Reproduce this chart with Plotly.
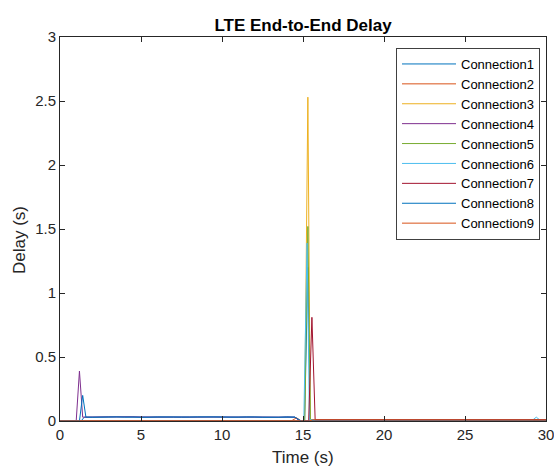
import plotly.graph_objects as go

# ---- data (time in s, delay in s) ----
names = ["Connection1", "Connection2", "Connection3", "Connection4", "Connection5",
         "Connection6", "Connection7", "Connection8", "Connection9"]
colors = ["#0072BD", "#D95319", "#EDB120", "#7E2F8E", "#77AC30",
          "#4DBEEE", "#A2142F", "#0072BD", "#D95319"]

noise_t = [1.5, 2.0, 2.5, 3.0, 3.5, 4.0, 4.5, 5.0, 5.5, 6.0, 6.5, 7.0, 7.5, 8.0, 8.5,
           9.0, 9.5, 10.0, 10.5, 11.0, 11.5, 12.0, 12.5, 13.0, 13.5, 14.0, 14.5]

t1 = [0, 1.3] + noise_t + [14.8, 15.1, 15.3, 15.45, 30]
d1 = [0, 0] + [0.030, 0.031, 0.029, 0.032, 0.030, 0.031, 0.033, 0.029, 0.030, 0.032,
               0.031, 0.030, 0.029, 0.031, 0.033, 0.030, 0.032, 0.031, 0.029, 0.030,
               0.032, 0.031, 0.030, 0.031, 0.029, 0.033, 0.030] + [0, 0, 1.2, 0.008, 0.008]

t2 = [0, 14.3, 14.6, 14.9, 30]
d2 = [0.002, 0.002, 0.025, 0.0, 0.0]

t3 = [0, 15.1, 15.3, 15.45, 30]
d3 = [0, 0, 2.53, 0.01, 0.01]

t4 = [0, 1.0, 1.2, 1.4, 3.0, 5.0, 7.0, 9.0, 11.0, 13.0, 14.5, 14.8, 30]
d4 = [0, 0, 0.39, 0.03, 0.032, 0.031, 0.030, 0.033, 0.031, 0.032, 0.030, 0, 0]

t5 = [0, 15.1, 15.3, 15.45, 30]
d5 = [0, 0, 1.52, 0.01, 0.01]

t6 = [0, 15.05, 15.25, 15.4, 29.2, 29.4, 29.6, 30]
d6 = [0, 0, 1.39, 0.01, 0.01, 0.03, 0.01, 0.01]

t7 = [0, 15.35, 15.55, 15.75, 30]
d7 = [0, 0, 0.81, 0.01, 0.01]

t8 = [0, 1.2, 1.4, 1.6] + noise_t[1:] + [14.9, 30]
d8 = [0, 0, 0.20, 0.03] + [0.029, 0.031, 0.030, 0.032, 0.030, 0.029, 0.031, 0.030,
                           0.032, 0.031, 0.029, 0.030, 0.031, 0.032, 0.030, 0.029,
                           0.031, 0.030, 0.032, 0.030, 0.031, 0.029, 0.030, 0.032,
                           0.031, 0.030] + [0, 0]

t9 = [0, 15.4, 15.6, 15.8, 30]
d9 = [0, 0, 0.01, 0.009, 0.008]

times = [t1, t2, t3, t4, t5, t6, t7, t8, t9]
delays = [d1, d2, d3, d4, d5, d6, d7, d8, d9]

x_ticks = [0, 5, 10, 15, 20, 25, 30]
y_ticks = [0, 0.5, 1, 1.5, 2, 2.5, 3]

fig = go.Figure()
for n, c, t, d in zip(names, colors, times, delays):
    fig.add_trace(go.Scatter(x=t, y=d, mode="lines", name=n,
                             line=dict(color=c, width=1)))

font = "Liberation Sans, Arial, sans-serif"
axis_common = dict(showline=True, linecolor="#262626", linewidth=1, mirror="ticks",
                   ticks="inside", ticklen=5, tickcolor="#262626", showgrid=False,
                   zeroline=False, automargin=False, ticklabeloverflow="allow",
                   tickfont=dict(family=font, size=15, color="#262626"))

W, H = 554, 466
L, R, T, B = 60, 8, 37, 45
PW, PH = W - L - R, H - T - B

fig.update_layout(
    width=W, height=H,
    margin=dict(l=L, r=R, t=T, b=B),
    paper_bgcolor="white", plot_bgcolor="white",
    title=dict(text="<b>LTE End-to-End Delay</b>", x=(L + PW / 2) / W,
               xanchor="center", y=1 - 25 / H, yanchor="middle",
               font=dict(family=font, size=17, color="black")),
    xaxis=dict(range=[0, 30], tickvals=x_ticks, **axis_common),
    yaxis=dict(range=[0, 3], tickvals=y_ticks, ticktext=[str(v) for v in y_ticks],
               **axis_common),
    legend=dict(x=(540 - L) / PW, y=(421 - 48) / PH, xanchor="right", yanchor="top",
                bgcolor="white", bordercolor="#404040", borderwidth=1,
                font=dict(family=font, size=13, color="black"),
                tracegroupgap=0, itemwidth=54),
    showlegend=True,
    annotations=[
        dict(text="Time (s)", xref="paper", yref="paper", x=0.5, y=-(457 - 421) / PH,
             xanchor="center", yanchor="middle", showarrow=False,
             font=dict(family=font, size=17, color="#262626")),
        dict(text="Delay (s)", xref="paper", yref="paper", x=-(L - 20) / PW,
             y=(421 - 240) / PH, xanchor="center", yanchor="middle",
             textangle=-90, showarrow=False,
             font=dict(family=font, size=17, color="#262626")),
    ],
)

fig.write_html("out.html", config={"displayModeBar": False},
               post_script="document.body.style.margin='0';document.body.style.overflow='hidden';")
